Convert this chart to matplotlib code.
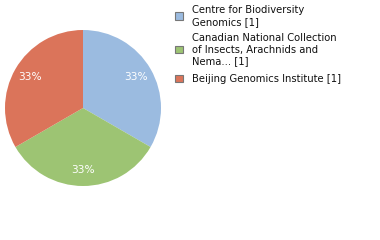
import matplotlib
matplotlib.use('Agg')
import matplotlib.pyplot as plt
from matplotlib.patches import Rectangle

labels = ['Centre for Biodiversity\nGenomics [1]',
          'Canadian National Collection\nof Insects, Arachnids and\nNema... [1]',
          'Beijing Genomics Institute [1]']
counts = [1, 1, 1]
colors = ['#9BBBE0', '#9DC473', '#DB745A']

W, H = 380, 240
fig = plt.figure(figsize=(3.8, 2.4), dpi=100)
ax = fig.add_axes([5/W, 54/H, 156/W, 156/H])

wedges, texts, autotexts = ax.pie(counts, colors=colors, startangle=90, counterclock=False,
                                  autopct='%1.0f%%', pctdistance=0.79,
                                  textprops=dict(color='white', fontsize=7.6))
ax.set_xlim(-1, 1)
ax.set_ylim(-1, 1)
ax.set_aspect('equal')
for w in wedges:
    w.set_edgecolor('none')

# legend, drawn by hand to match the uneven row spacing
row_y = [16, 49.5, 78.5]
for lab, col, y in zip(labels, colors, row_y):
    fig.add_artist(Rectangle((175/W, (H - y - 3.5)/H), 8/W, 7/H, transform=fig.transFigure,
                             facecolor=col, edgecolor='#777777', linewidth=0.8))
    fig.text(192/W, (H - y)/H, lab, fontsize=7.2, va='center', ha='left',
             linespacing=1.18, color='#111111')

fig.savefig('out.png', dpi=100)
